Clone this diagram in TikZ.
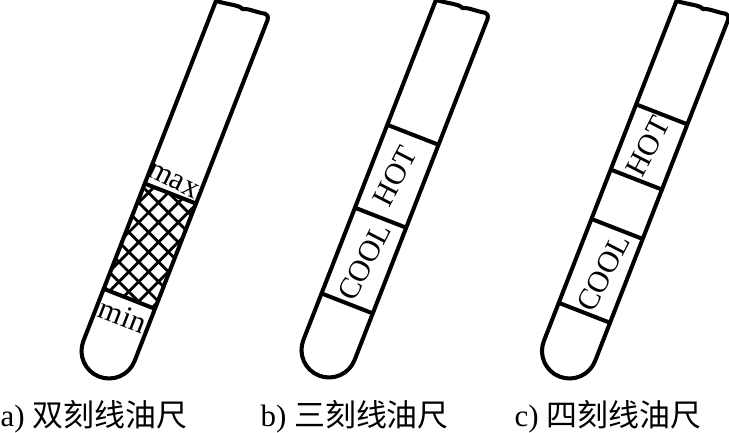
\documentclass[tikz,border=0pt]{standalone}
\usepackage{fontspec}
\setmainfont{Liberation Serif}
\newfontfamily\cjk{Noto Sans CJK SC}
\usetikzlibrary{positioning}

\newcommand{\tubeoutline}{%
  \draw[tubeline] (-.275,3.65) -- (-.275,0) arc[start angle=180, end angle=360, radius=.275] -- (.275,3.66)
    .. controls (.27,3.70) and (.25,3.71) .. (.23,3.71) .. controls (.15,3.69) and (.05,3.70) .. (0,3.67)
    .. controls (-.03,3.70) and (-.15,3.66) .. cycle;}
\newcommand{\tickline}[1]{\draw[tubeline] (-.275,#1) -- (.275,#1);}

\begin{document}
\begin{tikzpicture}[
    tubeline/.style={line width=1.15pt, line join=round},
    hatchline/.style={line width=.8pt},
    tube/.style={rotate=-21.3},
    scalelabel/.style={inner sep=0pt, transform shape, font=\fontsize{8.8}{10}\selectfont},
    gaugelabel/.style={scalelabel, rotate=84, font=\fontsize{8.6}{10}\selectfont},
    caption/.style={inner sep=0pt, anchor=base west, font=\fontsize{8.8}{10}\selectfont}]
  \useasboundingbox (0,0) rectangle (7.29,4.33);

  % a) two marks
  \begin{scope}[shift={(1.09,.82)}, tube]
    \begin{scope}
      \clip (-.275,.56) rectangle (.275,1.69);
      \foreach \d in {-15,...,15} {
        \draw[hatchline, rotate=66.3] (-2,\d*.14) -- (2,\d*.14);
        \draw[hatchline, rotate=-23.7] (-2,\d*.14) -- (2,\d*.14);
      }
    \end{scope}
    \tubeoutline
    \tickline{.56}
    \tickline{1.69}
    \node[scalelabel, rotate=-5] (maxlabel) at (-.02,1.82) {max};
    \node[scalelabel] (minlabel) at (0,.38) {min};
  \end{scope}

  % b) three marks
  \begin{scope}[shift={(3.29,.83)}, tube]
    \tubeoutline
    \tickline{.50}
    \tickline{1.42}
    \tickline{2.31}
    \node[gaugelabel] (coolb) at (.01,.95) {COOL};
    \node[gaugelabel] (hotb) at (-.02,1.86) {HOT};
  \end{scope}

  % c) four marks
  \begin{scope}[shift={(5.695,.82)}, tube]
    \tubeoutline
    \tickline{.41}
    \tickline{1.31}
    \tickline{1.84}
    \tickline{2.54}
    \node[gaugelabel] (coolc) at (.03,.85) {COOL};
    \node[gaugelabel] (hotc) at (-.01,2.19) {HOT};
  \end{scope}

  \node[caption] (capa) at (0,.06) {a) {\cjk 双刻线油尺}};
  \node[caption] (capb) at (2.60,.06) {b) {\cjk 三刻线油尺}};
  \node[caption] (capc) at (5.14,.06) {c) {\cjk 四刻线油尺}};
\end{tikzpicture}
\end{document}
